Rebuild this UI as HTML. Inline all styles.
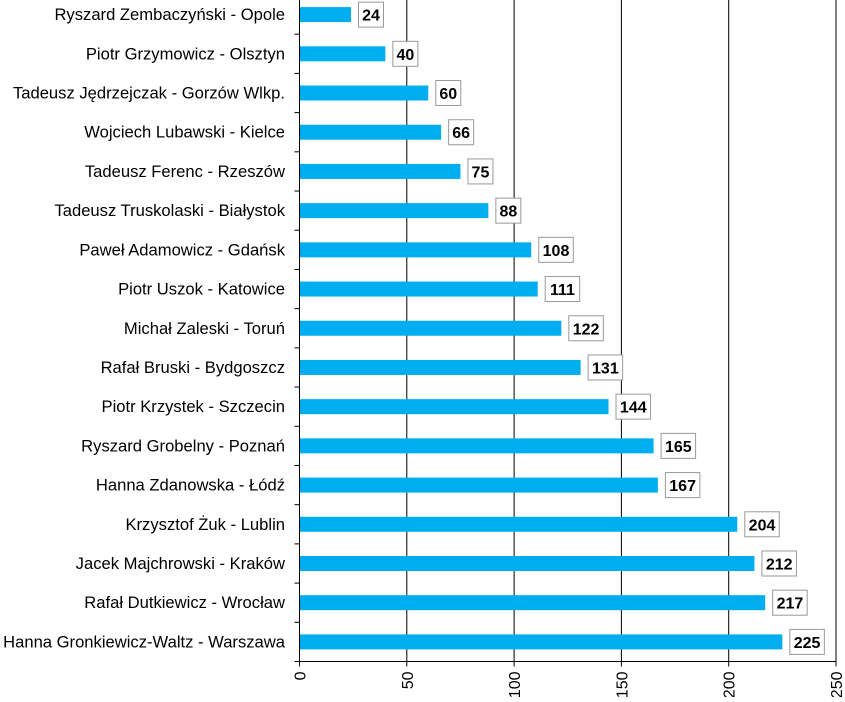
<!DOCTYPE html>
<html><head><meta charset="utf-8"><style>
body{margin:0;background:#fff;}
svg text{font-family:"Liberation Sans",sans-serif;}
</style></head><body>
<svg id="c" width="845" height="697" xmlns="http://www.w3.org/2000/svg"></svg>
<script>
const categories=["Ryszard Zembaczyński - Opole","Piotr Grzymowicz - Olsztyn","Tadeusz Jędrzejczak - Gorzów Wlkp.","Wojciech Lubawski - Kielce","Tadeusz Ferenc - Rzeszów","Tadeusz Truskolaski - Białystok","Paweł Adamowicz - Gdańsk","Piotr Uszok - Katowice","Michał Zaleski - Toruń","Rafał Bruski - Bydgoszcz","Piotr Krzystek - Szczecin","Ryszard Grobelny - Poznań","Hanna Zdanowska - Łódź","Krzysztof Żuk - Lublin","Jacek Majchrowski - Kraków","Rafał Dutkiewicz - Wrocław","Hanna Gronkiewicz-Waltz - Warszawa"];
const values=[24,40,60,66,75,88,108,111,122,131,144,165,167,204,212,217,225];
const ticks=[0,50,100,150,200,250];
const NS="http://www.w3.org/2000/svg";
const svg=document.getElementById('c');
const x0=299.5,x1=836,xmax=250,axisY=661.5,top0=-5;
const band=(axisY-top0)/categories.length;
const xs=v=>x0+v/xmax*(x1-x0);
function mk(t,a,p){const e=document.createElementNS(NS,t);for(const k in a)e.setAttribute(k,a[k]);(p||svg).appendChild(e);return e;}
ticks.forEach((t,i)=>{
 if(i>0){const g=mk('line',{x1:xs(t),x2:xs(t),y1:0,y2:axisY,stroke:'#000','stroke-width':1});
 
 }
 const tk=mk('line',{x1:xs(t),x2:xs(t),y1:axisY,y2:axisY+5,stroke:'#000'});
 
 
 const tx=mk('text',{x:0,y:0,'font-size':16,'text-anchor':'end',transform:`translate(${xs(t)+6},${axisY+10}) rotate(-90)`});
 tx.textContent=t;
 
 
});
const ax=mk('line',{x1:x0,x2:x1,y1:axisY,y2:axisY,stroke:'#000'});


const ay=mk('line',{x1:x0,x2:x0,y1:0,y2:axisY,stroke:'#000'});


categories.forEach((c,i)=>{
 const cy=top0+band*(i+0.5);
 const tk=mk('line',{x1:x0-5,x2:x0,y1:top0+band*(i+1),y2:top0+band*(i+1),stroke:'#000'});
 
 
 const lb=mk('text',{x:285,y:cy+5.5,'font-size':16.6,'text-anchor':'end',fill:'#000'});
 lb.textContent=c;
 
 
 const b=mk('rect',{x:x0+0.5,y:cy-7.5,width:xs(values[i])-x0-0.5,height:15,fill:'#00aeef'});
 
 
 const s=String(values[i]);const w=s.length*9.5+6;
 const bx=mk('rect',{x:xs(values[i])+7.5,y:cy-12.5,width:w,height:25,fill:'#fff',stroke:'#999'});
 
 
 const vt=mk('text',{x:xs(values[i])+7.5+w/2,y:cy+6,'font-size':16,'font-weight':'bold','text-anchor':'middle'});
 vt.textContent=s;
 
 
});
</script>
</body></html>
